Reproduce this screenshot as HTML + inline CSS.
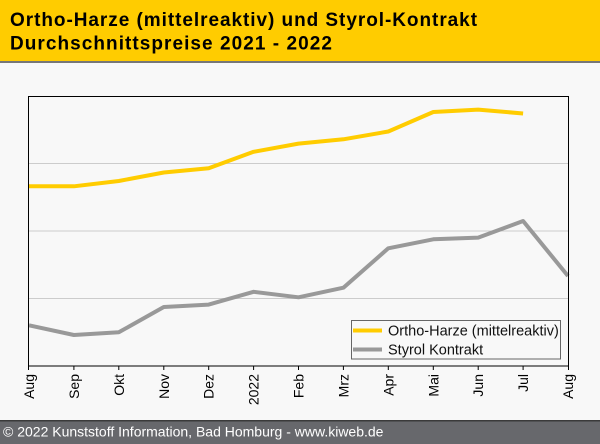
<!DOCTYPE html>
<html><head><meta charset="utf-8"><style>
html,body{margin:0;padding:0;background:#f8f8f8;}
svg{display:block;}
</style></head><body>
<svg width="600" height="444" viewBox="0 0 600 444" xmlns="http://www.w3.org/2000/svg" font-family="'Liberation Sans', Arial, sans-serif">
<rect x="0" y="0" width="600" height="444" fill="#f8f8f8"/>
<rect x="0" y="0" width="600" height="61" fill="#ffcc00"/>
<rect x="0" y="61" width="600" height="2" fill="#777777"/>
<text x="10" y="26" font-size="19" font-weight="bold" letter-spacing="0.95" fill="#000">Ortho-Harze (mittelreaktiv) und Styrol-Kontrakt</text>
<text x="10" y="49.5" font-size="19" font-weight="bold" letter-spacing="1.05" fill="#000">Durchschnittspreise 2021 - 2022</text>

<!-- gridlines -->
<g stroke="#cccccc" stroke-width="1">
<line x1="29" y1="163.5" x2="568" y2="163.5"/>
<line x1="29" y1="231" x2="568" y2="231"/>
<line x1="29" y1="298.5" x2="568" y2="298.5"/>
</g>

<!-- series -->
<polyline fill="none" stroke="#ffcc00" stroke-width="4" stroke-linejoin="round" points="29,186.3 73.9,186.3 118.8,181 163.8,172.5 208.7,168.3 253.6,151.8 298.5,143.6 343.4,139.3 388.3,131.5 433.3,112 478.2,109.6 523.1,113.5"/>
<polyline fill="none" stroke="#999999" stroke-width="4" stroke-linejoin="round" points="29,325.3 73.9,335 118.8,332.3 163.8,307 208.7,304.6 253.6,291.8 298.5,297.3 343.4,287.7 388.3,248.3 433.3,239.3 478.2,237.6 523.1,221 568,276"/>

<!-- frame -->
<rect x="28.5" y="96.5" width="540" height="269.5" fill="none" stroke="#000" stroke-width="1"/>

<!-- ticks -->
<g stroke="#000" stroke-width="1">
<line x1="28.5" y1="366" x2="28.5" y2="370"/>
<line x1="73.9" y1="366" x2="73.9" y2="370"/>
<line x1="118.8" y1="366" x2="118.8" y2="370"/>
<line x1="163.8" y1="366" x2="163.8" y2="370"/>
<line x1="208.7" y1="366" x2="208.7" y2="370"/>
<line x1="253.6" y1="366" x2="253.6" y2="370"/>
<line x1="298.5" y1="366" x2="298.5" y2="370"/>
<line x1="343.4" y1="366" x2="343.4" y2="370"/>
<line x1="388.3" y1="366" x2="388.3" y2="370"/>
<line x1="433.3" y1="366" x2="433.3" y2="370"/>
<line x1="478.2" y1="366" x2="478.2" y2="370"/>
<line x1="523.1" y1="366" x2="523.1" y2="370"/>
<line x1="568.5" y1="366" x2="568.5" y2="370"/>
</g>

<!-- tick labels -->
<g font-size="14" fill="#000" text-anchor="end">
<text transform="translate(34,374) rotate(-90)">Aug</text>
<text transform="translate(78.9,374) rotate(-90)">Sep</text>
<text transform="translate(123.8,374) rotate(-90)">Okt</text>
<text transform="translate(168.8,374) rotate(-90)">Nov</text>
<text transform="translate(213.7,374) rotate(-90)">Dez</text>
<text transform="translate(258.6,374) rotate(-90)">2022</text>
<text transform="translate(303.5,374) rotate(-90)">Feb</text>
<text transform="translate(348.4,374) rotate(-90)">Mrz</text>
<text transform="translate(393.3,374) rotate(-90)">Apr</text>
<text transform="translate(438.3,374) rotate(-90)">Mai</text>
<text transform="translate(483.2,374) rotate(-90)">Jun</text>
<text transform="translate(528.1,374) rotate(-90)">Jul</text>
<text transform="translate(573,374) rotate(-90)">Aug</text>
</g>

<!-- legend -->
<rect x="351.5" y="320.5" width="209" height="38.5" fill="#f8f8f8" stroke="#666666" stroke-width="1"/>
<line x1="353" y1="330.5" x2="382" y2="330.5" stroke="#ffcc00" stroke-width="4"/>
<line x1="353" y1="349.5" x2="382" y2="349.5" stroke="#999999" stroke-width="4"/>
<text x="388" y="335.7" font-size="14.5" fill="#111">Ortho-Harze (mittelreaktiv)</text>
<text x="388" y="354.5" font-size="14.5" fill="#111">Styrol Kontrakt</text>

<!-- footer -->
<rect x="0" y="420" width="600" height="24" fill="#67686c"/>
<rect x="0" y="420" width="600" height="1.5" fill="#3a3a3a"/>
<text x="3" y="436.5" font-size="14" fill="#ffffff">© 2022 Kunststoff Information, Bad Homburg - www.kiweb.de</text>
</svg>
</body></html>
